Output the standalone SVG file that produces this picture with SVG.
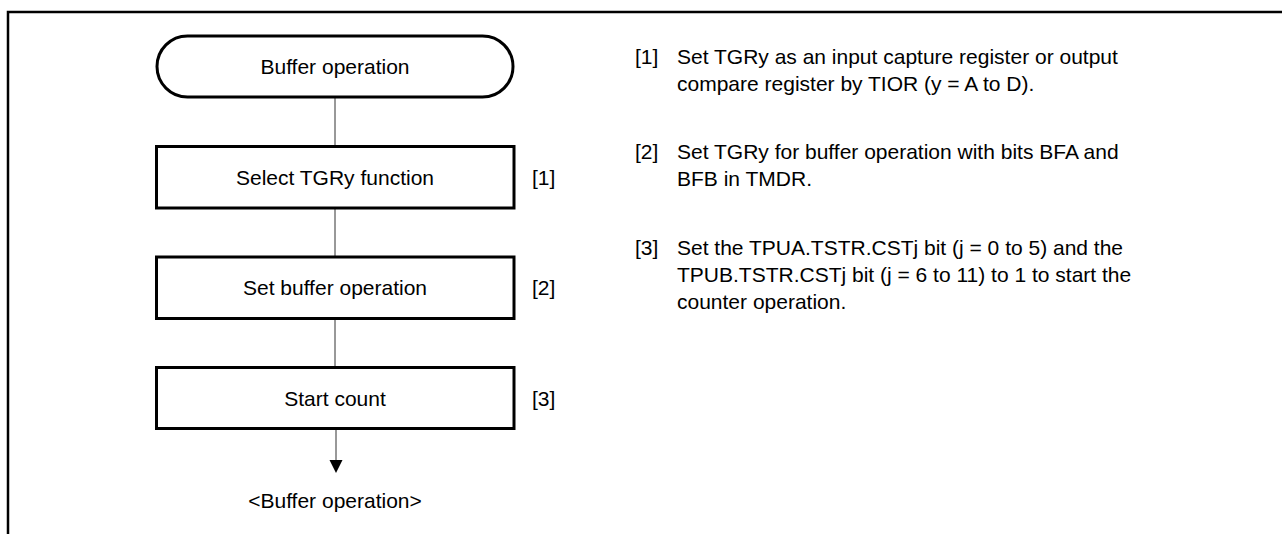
<svg xmlns="http://www.w3.org/2000/svg" width="1282" height="534" viewBox="0 0 1282 534">
<style>
.t{font-family:"Liberation Sans",Arial,sans-serif;font-size:21px;fill:#000}
.c{text-anchor:middle}
.shape{fill:#fff;stroke:#000;stroke-width:3}
.conn{stroke:#333;stroke-width:1;fill:none}
</style>
<defs>
<marker id="ah" markerWidth="14" markerHeight="14" refX="7" refY="13" orient="auto" markerUnits="userSpaceOnUse" viewBox="0 0 14 14">
<path d="M0.5,0 L13.5,0 L7,13 Z" fill="#000" transform="rotate(-90 7 7)"/>
</marker>
</defs>
<rect width="1282" height="534" fill="#fff"/>
<path d="M8,534 V12 H1282" fill="none" stroke="#000" stroke-width="2.5"/>
<g id="connectors">
<line class="conn" x1="335" y1="97" x2="335" y2="146.5"/>
<line class="conn" x1="335" y1="208" x2="335" y2="257"/>
<line class="conn" x1="335" y1="318" x2="335" y2="367.5"/>
<line class="conn" x1="336" y1="428" x2="336" y2="462"/>
<path d="M329.5,460 L342.5,460 L336,473 Z" fill="#000"/>
</g>
<g id="start">
<rect class="shape" x="157" y="36" width="356" height="61" rx="30.5" ry="30.5"/>
<text class="t c" x="335" y="74">Buffer operation</text>
</g>
<g id="step1">
<rect class="shape" x="156.5" y="146.5" width="357.5" height="61.5"/>
<text class="t c" x="335" y="185">Select TGRy function</text>
<text class="t" x="532" y="185">[1]</text>
</g>
<g id="step2">
<rect class="shape" x="156.5" y="257" width="357.5" height="61.5"/>
<text class="t c" x="335" y="295">Set buffer operation</text>
<text class="t" x="532" y="295">[2]</text>
</g>
<g id="step3">
<rect class="shape" x="156.5" y="367.5" width="357.5" height="61"/>
<text class="t c" x="335" y="406">Start count</text>
<text class="t" x="532" y="406">[3]</text>
</g>
<g id="end">
<text class="t c" x="335" y="508">&lt;Buffer operation&gt;</text>
</g>
<g id="notes">
<text class="t" x="635" y="64">[1]</text>
<text class="t" x="677" y="64">Set TGRy as an input capture register or output</text>
<text class="t" x="677" y="91">compare register by TIOR (y = A to D).</text>
<text class="t" x="635" y="159">[2]</text>
<text class="t" x="677" y="159">Set TGRy for buffer operation with bits BFA and</text>
<text class="t" x="677" y="186">BFB in TMDR.</text>
<text class="t" x="635" y="255">[3]</text>
<text class="t" x="677" y="255">Set the TPUA.TSTR.CSTj bit (j = 0 to 5) and the</text>
<text class="t" x="677" y="282">TPUB.TSTR.CSTj bit (j = 6 to 11) to 1 to start the</text>
<text class="t" x="677" y="309">counter operation.</text>
</g>
</svg>
